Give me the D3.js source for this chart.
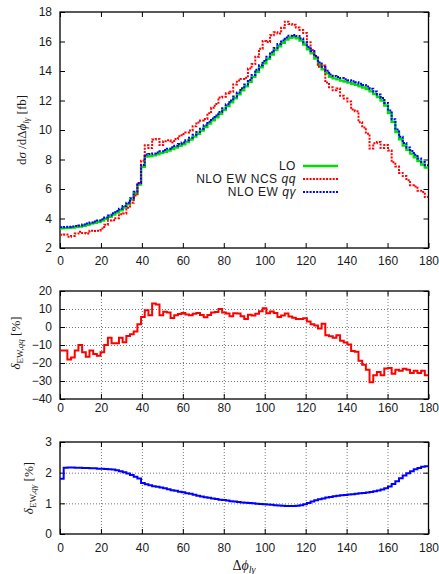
<!DOCTYPE html>
<html><head><meta charset="utf-8">
<script src="https://cdn.jsdelivr.net/npm/d3@7"></script>
<style>body{margin:0;background:#fff}svg{display:block}</style>
</head><body>
<svg id="c" width="439" height="574"></svg>
<script>
// ---- data (bins of 1.8 degrees, 0..180) ----
const binWidth = 1.8;
const lo = [3.34,3.35,3.37,3.39,3.42,3.45,3.51,3.58,3.65,3.71,
 3.78,3.86,3.98,4.11,4.26,4.41,4.56,4.75,4.97,5.28,
 5.7,6.3,7.5,8.2,8.24,8.28,8.35,8.43,8.52,8.61,
 8.71,8.81,8.93,9.03,9.18,9.36,9.55,9.75,9.97,10.2,
 10.43,10.65,10.86,11.1,11.35,11.62,11.88,12.15,12.42,12.7,
 12.96,13.26,13.6,13.95,14.25,14.53,14.83,15.12,15.42,15.68,
 15.92,16.13,16.25,16.3,16.22,16.06,15.8,15.47,15.2,14.85,
 14.42,14.12,13.85,13.6,13.5,13.43,13.35,13.28,13.21,13.14,
 13.06,12.97,12.88,12.78,12.62,12.43,12.24,12.0,11.66,11.15,
 10.55,9.86,9.37,8.95,8.65,8.4,8.15,7.9,7.66,7.45];
const deltaQQ = [-13,-13,-18,-17,-13,-10,-14,-16.5,-13,-15,
 -16,-14,-10,-6,-9,-9,-6,-8.5,-5,-4,
 -2.5,1.5,5.5,9.3,6.5,13,12.5,6.5,8.5,8,
 5,6.5,7.2,7.8,7,6.5,7.4,7.8,6.7,5.4,
 6.7,8,8.3,10,8,7.5,6,7.7,7.5,6,
 4.5,6.8,6.4,7.3,8.8,10.4,7.7,8.6,7.8,5.5,
 6.4,7.5,5.8,5.1,4.5,4.5,4.9,3.1,1.5,0.9,
 -0.9,1.8,-4.6,-5.1,-6,-4.6,-7.7,-8.6,-9.7,-13.3,
 -13.7,-18.8,-21,-23.7,-30.7,-26.8,-25,-26.8,-23,-22.8,
 -26,-23.7,-24.3,-23.2,-23.7,-25.5,-24.3,-25.5,-24.3,-26.8];
const deltaQG = [1.80,2.16,2.17,2.17,2.16,2.16,2.15,2.15,2.14,2.14,
 2.13,2.13,2.12,2.11,2.10,2.08,2.05,2.01,1.97,1.92,
 1.87,1.81,1.66,1.62,1.59,1.56,1.54,1.52,1.49,1.46,
 1.43,1.41,1.38,1.36,1.33,1.31,1.28,1.25,1.22,1.20,
 1.18,1.16,1.14,1.12,1.11,1.09,1.07,1.06,1.04,1.03,
 1.02,1.01,1.00,0.99,0.98,0.97,0.96,0.95,0.94,0.93,
 0.92,0.91,0.91,0.91,0.92,0.94,0.97,1.01,1.06,1.10,
 1.13,1.16,1.19,1.21,1.23,1.25,1.26,1.27,1.29,1.30,
 1.31,1.33,1.34,1.35,1.37,1.39,1.42,1.45,1.49,1.55,
 1.63,1.72,1.82,1.91,1.98,2.05,2.11,2.15,2.19,2.21];
const xTicks = [0,20,40,60,80,100,120,140,160,180];
const topYTicks = [2,4,6,8,10,12,14,16,18];
const midYTicks = [-40,-30,-20,-10,0,10,20];
const botYTicks = [0,1,2,3];
const seriesNames = ["LO","NLO EW NCS ","NLO EW "];
const seriesItalic = ["","qq","qγ"];
const seriesColors = ["#00e000","#ff0000","#0000ff"];

const nloQQ = lo.map((v,i)=>v*(1+deltaQQ[i]/100));
const nloQG = lo.map((v,i)=>v*(1+deltaQG[i]/100));

// ---- layout ----
const svg = d3.select("#c");
const X0 = 60, X1 = 428.5;
const x = d3.scaleLinear().domain([0,180]).range([X0,X1]);
const SANS = "'Liberation Sans', Arial, sans-serif";
const SERIF = "'Liberation Serif', 'DejaVu Serif', serif";

const panels = [
  {top:12, bottom:248, domain:[2,18], ticks:topYTicks, grid:false, xpad:8},
  {top:291, bottom:399, domain:[-40,20], ticks:midYTicks, grid:true, xpad:4},
  {top:442, bottom:534, domain:[0,3], ticks:botYTicks, grid:true, xpad:9}
];
panels.forEach((p,k)=>{
  p.y = d3.scaleLinear().domain(p.domain).range([p.bottom,p.top]);
  const cid = "clip"+k;
  svg.append("clipPath").attr("id",cid).append("rect")
    .attr("x",X0).attr("y",p.top).attr("width",X1-X0).attr("height",p.bottom-p.top);
  p.clip = `url(#${cid})`;
  if (p.grid) {
    const gx = svg.append("g").attr("transform",`translate(0,${p.bottom})`)
      .call(d3.axisBottom(x).tickValues(xTicks.slice(1,-1)).tickSize(-(p.bottom-p.top)).tickFormat(""));
    const gy = svg.append("g").attr("transform",`translate(${X0},0)`)
      .call(d3.axisLeft(p.y).tickValues(p.ticks.slice(1,-1)).tickSize(-(X1-X0)).tickFormat(""));
    [gx,gy].forEach(g=>{
      g.select(".domain").remove();
      g.selectAll("line").attr("stroke","#777").attr("stroke-width",1).attr("stroke-dasharray","1,2");
    });
  }
  const ax = svg.append("g").attr("transform",`translate(0,${p.bottom})`)
    .call(d3.axisBottom(x).tickValues(xTicks).tickSize(-5).tickSizeOuter(0).tickPadding(p.xpad));
  const axT = svg.append("g").attr("transform",`translate(0,${p.top})`)
    .call(d3.axisTop(x).tickValues(xTicks).tickSize(-5).tickSizeOuter(0).tickFormat(""));
  const ay = svg.append("g").attr("transform",`translate(${X0},0)`)
    .call(d3.axisLeft(p.y).tickValues(p.ticks).tickSize(-5).tickSizeOuter(0).tickPadding(8)
      .tickFormat(d=>d<0?"\u2212"+Math.abs(d):d));
  const ayR = svg.append("g").attr("transform",`translate(${X1},0)`)
    .call(d3.axisRight(p.y).tickValues(p.ticks).tickSize(-5).tickSizeOuter(0).tickFormat(""));
  [ax,axT,ay,ayR].forEach(g=>{
    g.select(".domain").remove();
    g.selectAll("line").attr("stroke","#000").attr("stroke-width",1);
    g.selectAll("text").attr("font-family",SANS).attr("font-size",12).attr("fill","#1a1a1a");
  });
  svg.append("rect").attr("x",X0).attr("y",p.top).attr("width",X1-X0).attr("height",p.bottom-p.top)
    .attr("fill","none").attr("stroke","#000").attr("stroke-width",1.3);
});

function stepPts(vals){
  const pts = vals.map((v,i)=>[i*binWidth, v]);
  pts.push([180, vals[vals.length-1]]);
  return pts;
}
function drawStep(p, vals, color, width, dash){
  const line = d3.line().x(d=>x(d[0])).y(d=>p.y(d[1])).curve(d3.curveStepAfter);
  const path = svg.append("path").attr("d", line(stepPts(vals)))
    .attr("fill","none").attr("stroke",color).attr("stroke-width",width)
    .attr("clip-path",p.clip);
  if (dash) path.attr("stroke-dasharray",dash);
}
// top panel
drawStep(panels[0], lo, seriesColors[0], 2.4, null);
drawStep(panels[0], nloQQ, seriesColors[1], 2, "2,1.3");
drawStep(panels[0], nloQG, seriesColors[2], 2, "2,1.3");
// ratio panels
drawStep(panels[1], deltaQQ, seriesColors[1], 2, null);
drawStep(panels[2], deltaQG, seriesColors[2], 2, null);

// legend
const legY = [166,179,192];
seriesNames.forEach((n,i)=>{
  const t = svg.append("text").attr("x",296).attr("y",legY[i]+4.3).attr("text-anchor","end")
    .attr("font-family",SANS).attr("font-size",12).attr("letter-spacing",0.55).attr("fill","#1a1a1a");
  t.append("tspan").text(n);
  if (seriesItalic[i]) t.append("tspan").attr("font-style","italic").text(seriesItalic[i]);
  const l = svg.append("line").attr("x1",303).attr("x2",338).attr("y1",legY[i]).attr("y2",legY[i])
    .attr("stroke",seriesColors[i]).attr("stroke-width",i===0?2.4:2);
  if (i>0) l.attr("stroke-dasharray","2,1.3");
});

// axis titles
function ytitle(cx, cy, build){
  const t = svg.append("text").attr("transform",`translate(${cx},${cy}) rotate(-90)`)
    .attr("text-anchor","middle").attr("font-family",SERIF).attr("font-size",13).attr("fill","#1a1a1a");
  build(t);
}
ytitle(26, 130, t=>{
  t.append("tspan").text("d");
  t.append("tspan").attr("font-style","italic").text("σ");
  t.append("tspan").text(" /dΔ");
  t.append("tspan").attr("font-style","italic").text("ϕ");
  t.append("tspan").attr("font-style","italic").attr("font-size",9).attr("dy",3).text("lγ");
  t.append("tspan").attr("dy",-3).text(" [fb]");
});
ytitle(20, 343, t=>{
  t.append("tspan").attr("font-style","italic").text("δ");
  t.append("tspan").attr("font-size",9).attr("dy",3).text("EW,");
  t.append("tspan").attr("font-size",9).attr("font-style","italic").text("qq");
  t.append("tspan").attr("dy",-3).text(" [%]");
});
ytitle(33, 488, t=>{
  t.append("tspan").attr("font-style","italic").text("δ");
  t.append("tspan").attr("font-size",9).attr("dy",3).text("EW,");
  t.append("tspan").attr("font-size",9).attr("font-style","italic").text("qγ");
  t.append("tspan").attr("dy",-3).text(" [%]");
});
const xt = svg.append("text").attr("x",244).attr("y",570).attr("text-anchor","middle")
  .attr("font-family",SERIF).attr("font-size",14).attr("fill","#1a1a1a");
xt.append("tspan").text("Δ");
xt.append("tspan").attr("font-style","italic").text("ϕ");
xt.append("tspan").attr("font-style","italic").attr("font-size",10).attr("dy",3).text("lγ");
</script>
</body></html>
